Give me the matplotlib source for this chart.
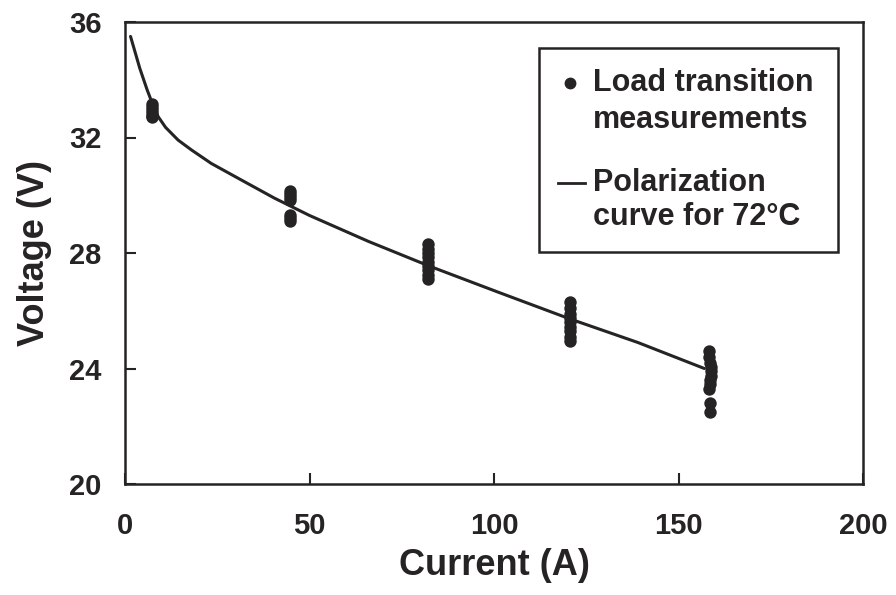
import matplotlib
matplotlib.use("Agg")
import matplotlib.pyplot as plt
from matplotlib.patches import Rectangle
from matplotlib.lines import Line2D

# Polarization curve (72 °C)
curve_current = [1.5, 4, 6, 7.5, 9, 11, 14.4, 18, 23.4, 31.5, 40.5, 50, 66, 82.4, 101, 120.3, 139, 157]
curve_voltage = [35.5, 34.4, 33.65, 33.15, 32.72, 32.35, 31.91, 31.57, 31.1, 30.53, 29.9, 29.3, 28.4, 27.55, 26.65, 25.73, 24.9, 24.0]

# Load transition measurements
meas_current = ([7.3] * 6 + [44.6] * 7 + [82.2] * 9 + [120.5] * 9
                + [158.4, 158.4, 158.6, 158.7, 158.8, 158.7, 158.6, 158.5, 158.4, 158.5, 158.6])
meas_voltage = ([33.15, 33.05, 32.95, 32.85, 32.75, 32.7]
                + [30.15, 30.05, 29.95, 29.85, 29.3, 29.2, 29.1]
                + [28.3, 28.15, 28.0, 27.85, 27.7, 27.55, 27.4, 27.25, 27.1]
                + [26.3, 26.1, 25.9, 25.75, 25.6, 25.45, 25.3, 25.1, 24.95]
                + [24.6, 24.4, 24.2, 24.05, 23.9, 23.75, 23.6, 23.45, 23.3, 22.8, 22.5])

x_ticks = [0, 50, 100, 150, 200]
y_ticks = [20, 24, 28, 32, 36]

legend_lines = ["Load transition", "measurements", "Polarization", "curve for 72°C"]

ink = "#262324"
plt.rcParams["font.family"] = ["Liberation Sans", "DejaVu Sans"]
plt.rcParams["font.weight"] = "bold"

fig = plt.figure(figsize=(8.96, 5.95), dpi=100)
ax = fig.add_axes([125 / 896, 1 - 484 / 595, 738 / 896, 462 / 595])

ax.plot(curve_current, curve_voltage, color=ink, lw=2.2, solid_capstyle="round",
        solid_joinstyle="round")
ax.scatter(meas_current, meas_voltage, s=80, color=ink, zorder=3, linewidths=0)

ax.set_xlim(0, 200)
ax.set_ylim(20, 36)
ax.set_xticks(x_ticks)
ax.set_yticks(y_ticks)
ax.tick_params(direction="in", length=8, width=1.5, labelsize=21, colors=ink,
               top=False, right=False)
ax.tick_params(axis="x", pad=20)
ax.tick_params(axis="y", pad=17)
for lab in ax.get_xticklabels() + ax.get_yticklabels():
    lab.set_fontweight("bold")
for sp in ax.spines.values():
    sp.set_linewidth(1.8)
    sp.set_color(ink)

ax.set_xlabel("Current (A)", fontsize=26, fontweight="bold", color=ink, labelpad=6)
ax.set_ylabel("Voltage (V)", fontsize=26, fontweight="bold", color=ink, labelpad=12)

# Legend box drawn manually
box = Rectangle((0.561, 0.502), 0.405, 0.442, transform=ax.transAxes,
                fill=False, lw=1.8, edgecolor=ink, zorder=5)
ax.add_patch(box)
ax.add_line(Line2D([0.603], [0.868], transform=ax.transAxes, marker="o",
                   markersize=7.5, color=ink, ls="none", zorder=6))
ax.add_line(Line2D([0.587, 0.623], [0.652, 0.652], transform=ax.transAxes,
                   color=ink, lw=2.0, zorder=6))
ys = [0.868, 0.788, 0.652, 0.578]
for txt, yy in zip(legend_lines, ys):
    ax.text(0.634, yy, txt, transform=ax.transAxes, fontsize=22, fontweight="bold",
            color=ink, ha="left", va="center", zorder=6)

fig.savefig("out.png", dpi=100)
